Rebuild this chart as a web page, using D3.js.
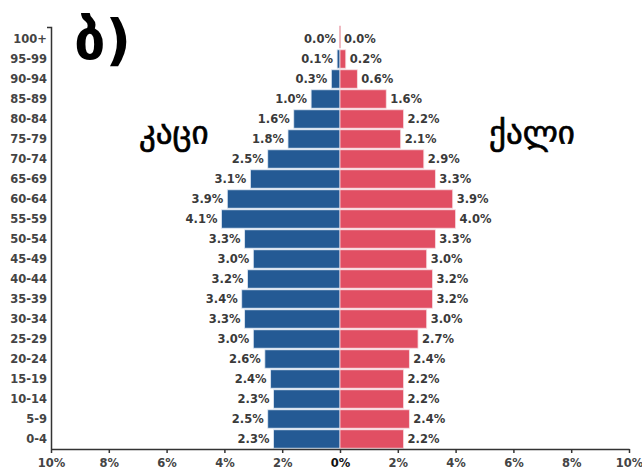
<!DOCTYPE html>
<html><head><meta charset="utf-8">
<script src="https://cdn.jsdelivr.net/npm/d3@7"></script>
<style>body{margin:0;background:#fff}svg{display:block}</style>
</head><body>
<script>
const ages = ["100+","95-99","90-94","85-89","80-84","75-79","70-74","65-69","60-64","55-59","50-54","45-49","40-44","35-39","30-34","25-29","20-24","15-19","10-14","5-9","0-4"];
const male = [0.0,0.1,0.3,1.0,1.6,1.8,2.5,3.1,3.9,4.1,3.3,3.0,3.2,3.4,3.3,3.0,2.6,2.4,2.3,2.5,2.3];
const female = [0.0,0.2,0.6,1.6,2.2,2.1,2.9,3.3,3.9,4.0,3.3,3.0,3.2,3.2,3.0,2.7,2.4,2.2,2.2,2.4,2.2];
const xTicks = [-10,-8,-6,-4,-2,0,2,4,6,8,10];
const title = "ბ)";
const maleLabel = "კაცი";
const femaleLabel = "ქალი";

const W=642,H=469;
const svg=d3.select("body").append("svg").attr("width",W).attr("height",H);
const x=d3.scaleLinear().domain([-10,10]).range([51,629]);
const y=d3.scaleBand().domain(ages).range([29,449]).paddingInner(0.08).paddingOuter(0.04);
const font="DejaVu Sans, sans-serif";
const blue="#245a94", red="#e14f63";

// bars
const g=svg.append("g");
g.selectAll("rect.m").data(ages).join("rect")
 .attr("x",(d,i)=>x(-male[i])).attr("y",d=>y(d))
 .attr("width",(d,i)=>x(0)-x(-male[i])).attr("height",y.bandwidth())
 .attr("fill",blue).attr("stroke","#dfe8f3").attr("stroke-width",0.8);
g.selectAll("rect.f").data(ages).join("rect")
 .attr("x",x(0)).attr("y",d=>y(d))
 .attr("width",(d,i)=>x(female[i])-x(0)).attr("height",y.bandwidth())
 .attr("fill",red).attr("stroke","#f6dde1").attr("stroke-width",0.8);
// thin centre line for the top (near-zero) group
svg.append("line").attr("x1",x(0)).attr("x2",x(0)).attr("y1",y("100+")-4).attr("y2",y("100+")+y.bandwidth())
 .attr("stroke","#e48a98").attr("stroke-width",1.2);

// value labels
g.selectAll("text.m").data(ages).join("text")
 .attr("x",(d,i)=>x(-male[i])-4).attr("y",d=>y(d)+y.bandwidth()/2)
 .attr("dy","0.35em").attr("text-anchor","end")
 .attr("font-family",font).attr("font-size",11.5).attr("font-weight","bold").attr("fill","#3a3a3a")
 .text((d,i)=>male[i].toFixed(1)+"%");
g.selectAll("text.f").data(ages).join("text")
 .attr("x",(d,i)=>x(female[i])+4).attr("y",d=>y(d)+y.bandwidth()/2)
 .attr("dy","0.35em").attr("text-anchor","start")
 .attr("font-family",font).attr("font-size",11.5).attr("font-weight","bold").attr("fill","#3a3a3a")
 .text((d,i)=>female[i].toFixed(1)+"%");

// axes
const xa=svg.append("g").attr("transform","translate(0,449)")
 .call(d3.axisBottom(x).tickValues(xTicks).tickFormat(d=>Math.abs(d)+"%").tickSize(4).tickSizeOuter(0));
xa.select(".domain").attr("stroke","#333").attr("stroke-width",1.5);
xa.selectAll(".tick line").attr("stroke","#333").attr("stroke-width",1.5);
xa.selectAll("text").attr("font-family",font).attr("font-size",11.5).attr("font-weight","bold").attr("fill","#444").attr("dy","0.95em");
xa.selectAll(".tick").filter(d=>d===0).select("text").attr("fill","#111");

const ya=svg.append("g").attr("transform","translate(51,0)")
 .call(d3.axisLeft(y).tickSize(0).tickPadding(4));
ya.select(".domain").attr("d","M-4,27.5H0.5V449").attr("stroke","#333").attr("stroke-width",1.5).attr("fill","none");
ya.selectAll("text").attr("font-family",font).attr("font-size",11.5).attr("font-weight","bold").attr("fill","#444");

// titles
svg.append("text").attr("x",74).attr("y",59).attr("font-family",font).attr("font-size",56).attr("font-weight","bold").attr("fill","#000").text(title);
svg.append("text").attr("x",139).attr("y",144).attr("font-family",font).attr("font-size",33).attr("fill","#000").attr("stroke","#000").attr("stroke-width",0.7).text(maleLabel);
svg.append("text").attr("x",489).attr("y",144).attr("font-family",font).attr("font-size",33).attr("fill","#000").attr("stroke","#000").attr("stroke-width",0.7).text(femaleLabel);
</script>
</body></html>
